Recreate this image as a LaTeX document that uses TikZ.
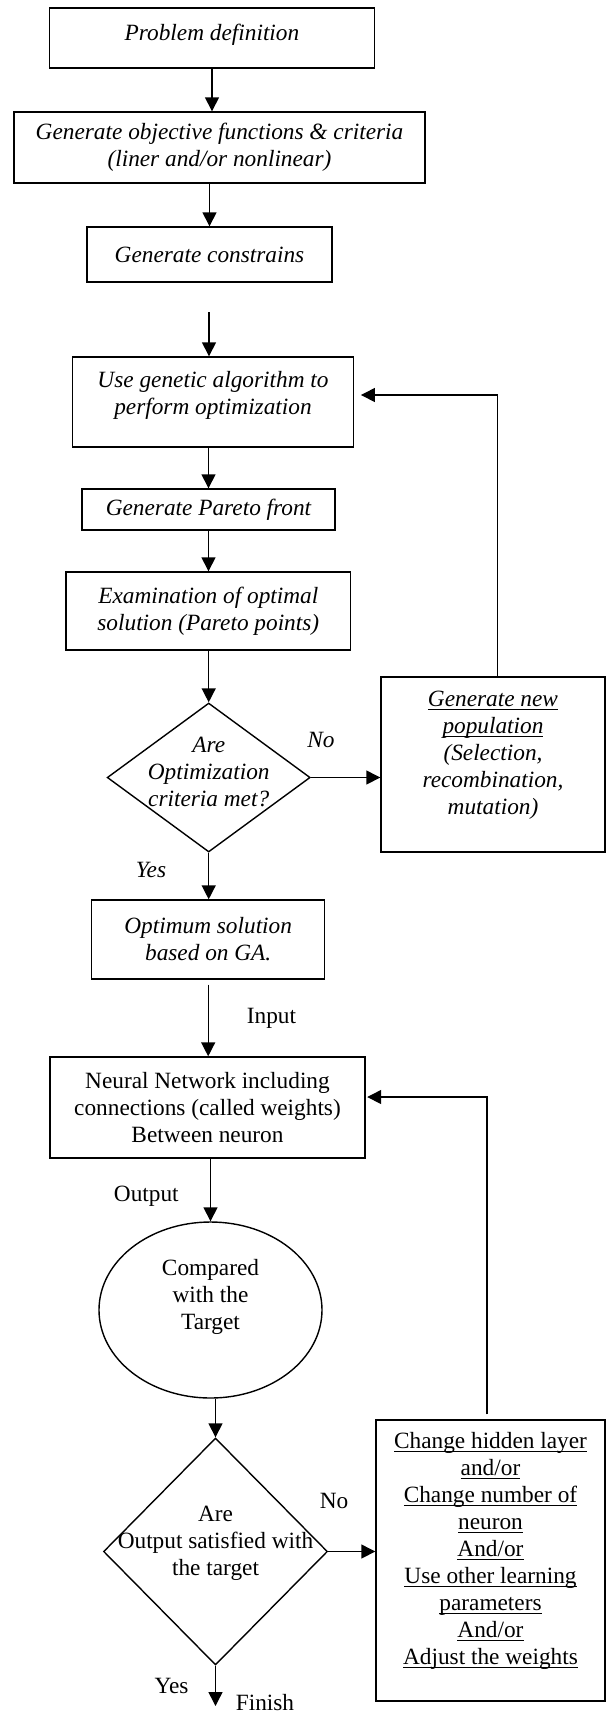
\documentclass[tikz,border=0pt]{standalone}
\usepackage{fontspec}
\setmainfont{Liberation Serif}
\usetikzlibrary{arrows.meta,shapes.geometric}
\newcommand{\chartfont}{\fontsize{11.65pt}{13.5pt}\selectfont}
% underline at a fixed depth, as a word processor draws it
\newcommand{\ulin}[1]{\setbox0\hbox{#1}\rlap{\rule[-1.7pt]{\wd0}{0.65pt}}\box0}
% extra depth below the last line, lifts the text in its shape
\newcommand{\bpad}[1]{\rule[-#1]{0pt}{#1}}

\begin{document}
\begin{tikzpicture}[x=0.5pt,y=-0.5pt,
    box/.style={draw, line width=0.7pt, inner sep=0pt, align=center},
    decide/.style={box, diamond, inner sep=-30pt},
    gatext/.style={font=\chartfont\itshape},
    nntext/.style={font=\chartfont},
    arr/.style={-{Triangle[length=7pt,width=7pt]}, line width=0.7pt}]
  \useasboundingbox (0,0) rectangle (606,1715);

  % genetic algorithm
  \node[box,gatext,minimum width=162.25pt,minimum height=30pt] (def) at (212,38) {Problem definition\bpad{6pt}};
  \node[box,gatext,minimum width=205.5pt,minimum height=35.5pt] (obj) at (219.5,147.5) {Generate objective functions \& criteria\\(liner and/or nonlinear)};
  \node[box,gatext,minimum width=122.5pt,minimum height=27.5pt] (cons) at (209.5,254.5) {Generate constrains};
  \coordinate (gap) at (209,312);
  \node[box,gatext,minimum width=140.25pt,minimum height=45pt] (ga) at (213,402) {Use genetic algorithm to\\perform optimization\bpad{9pt}};
  \node[box,gatext,minimum width=126.5pt,minimum height=20.5pt] (pareto) at (208.5,509.5) {Generate Pareto front};
  \node[box,gatext,minimum width=142.3pt,minimum height=39pt] (exam) at (208.3,611) {Examination of optimal\\solution (Pareto points)};
  \node[decide,gatext,minimum width=101.5pt,minimum height=74.5pt] (met) at (208.7,777.5) {Are\\Optimization\\criteria met?\bpad{6pt}};
  \node[box,gatext,minimum width=112pt,minimum height=87.5pt] (newpop) at (493,764.5) {\ulin{Generate new}\\\ulin{population}\\(Selection,\\recombination,\\mutation)\bpad{11.6pt}};
  \node[box,gatext,minimum width=116.5pt,minimum height=39.5pt] (opt) at (208.2,939.5) {Optimum solution\\based on GA.};

  \draw[arr] (def.south) -- (def.south |- obj.north);
  \draw[arr] (cons.north |- obj.south) -- (cons.north);
  \draw[arr] (gap) -- (gap |- ga.north);
  \draw[arr] (pareto.north |- ga.south) -- (pareto.north);
  \draw[arr] (pareto.south) -- (pareto.south |- exam.north);
  \draw[arr] (exam.south -| met.north) -- (met.north);
  \draw[arr] (met.east) -- (met.east -| newpop.west);
  \draw[arr] ([xshift=2.25pt]newpop.north) |- ([xshift=3.5pt,yshift=3.5pt]ga.east);
  \draw[arr] (met.south) -- (met.south |- opt.north);

  \node[gatext] (no1) at (321,740) {No};
  \begin{scope}
    \clip (120,850) rectangle (200,877.5);
    \node[gatext] (yes1) at (151,870) {Yes};
  \end{scope}

  % neural network
  \node[box,nntext,minimum width=157.5pt,minimum height=50.5pt] (nn) at (207.5,1107.5) {Neural Network including\\connections (called weights)\\Between neuron};
  \node[box,nntext,ellipse,minimum width=111.5pt,minimum height=88pt] (cmp) at (210.5,1310) {Compared\\with the\\Target\bpad{15.5pt}};
  \node[decide,nntext,minimum width=112pt,minimum height=113.5pt] (sat) at (215.5,1551.5) {Are\\Output satisfied with\\the target\bpad{10.5pt}};
  \node[box,nntext,minimum width=114.5pt,minimum height=140.5pt] (chg) at (490.5,1560.5) {\ulin{Change hidden layer}\\\ulin{and/or}\\\ulin{Change number of}\\\ulin{neuron}\\\ulin{And/or}\\\ulin{Use other learning}\\\ulin{parameters}\\\ulin{And/or}\\\ulin{Adjust the weights}\bpad{12pt}};
  \coordinate (finish) at (214,1706);

  \draw[arr] ([yshift=-2.5pt]opt.south) -- (opt.south |- nn.north);
  \draw[arr] (cmp.north |- nn.south) -- (cmp.north);
  \draw[arr] (sat.north |- cmp.south) -- (sat.north);
  \draw[arr] (sat.east) -- (sat.east -| chg.west);
  \draw[arr] ([xshift=-1.75pt,yshift=2.5pt]chg.north) |- ([xshift=0.75pt,yshift=5.25pt]nn.east);
  \draw[arr] (sat.south) -- (sat.south |- finish);

  \node[nntext] (input) at (271.5,1018) {Input};
  \node[nntext] (output) at (146.3,1196) {Output};
  \node[nntext] (no2) at (334,1500.5) {No};
  \node[nntext] (yes2) at (171.5,1686) {Yes};
  \node[nntext,inner ysep=0pt] (fin) at (265,1703) {Finish};
\end{tikzpicture}
\end{document}
